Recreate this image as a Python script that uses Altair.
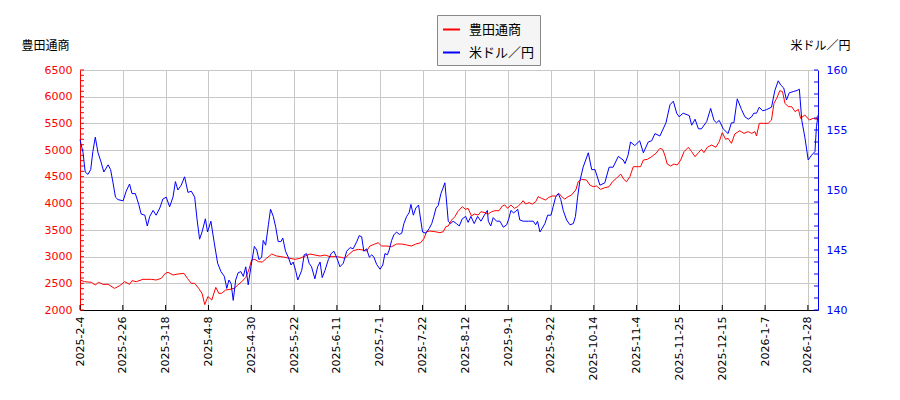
import altair as alt
import pandas as pd

# ---- tick labels (trading-day axis, one label every 14 trading days) ----
x_labels = ["2025-2-4", "2025-2-26", "2025-3-18", "2025-4-8", "2025-4-30",
            "2025-5-22", "2025-6-11", "2025-7-1", "2025-7-22", "2025-8-12",
            "2025-9-1", "2025-9-22", "2025-10-14", "2025-11-4", "2025-11-25",
            "2025-12-15", "2026-1-7", "2026-1-28"]
tick_step = 14

# ---- 豊田通商 (left axis) : trading-day position, price ----
red_t = [0, 1.5, 3.7, 5.0, 6.1, 7.5, 9.2, 11.3, 13.0, 14.6,
         16.2, 17.0, 18.4, 20.6, 23.3, 24.9, 26.6, 27.9, 28.8, 30.4,
         32.0, 34.0, 35.1, 36.4, 37.5, 38.8, 39.9, 40.8, 41.8, 42.5,
         43.1, 44.4, 45.4, 46.3, 47.6, 49.0, 50.4, 51.6, 52.9, 54.2,
         55.2, 56.1, 57.2, 58.3, 59.6, 61.0, 62.7, 64.3, 65.7, 67.0,
         68.6, 70.3, 71.9, 73.6, 75.2, 76.8, 78.5, 80.1, 81.7, 83.9,
         85.5, 86.6, 87.7, 89.3, 91.0, 92.6, 93.7, 94.8, 96.4, 97.5,
         98.6, 100.3, 101.9, 103.5, 105.2, 106.8, 108.4, 109.8, 111.4, 112.5,
         113.3, 114.4, 116.0, 117.7, 118.8, 119.6, 120.4, 121.5, 122.6, 123.5,
         125.0, 126.1, 126.9, 128.0, 128.9, 130.2, 131.1, 132.4, 133.5, 134.6,
         135.7, 137.0, 138.1, 138.9, 139.8, 140.9, 142.0, 143.1, 144.2, 144.9,
         145.7, 146.8, 147.9, 149.0, 149.8, 150.9, 152.2, 153.3, 154.4, 155.5,
         156.6, 157.5, 158.5, 159.6, 160.7, 162.1, 162.9, 164.0, 165.6, 166.7,
         167.8, 168.9, 170.2, 171.6, 173.0, 174.1, 175.4, 176.8, 177.8, 178.7,
         179.8, 180.9, 182.5, 183.3, 184.2, 185.5, 186.9, 188.3, 189.6, 190.5,
         191.2, 192.0, 193.1, 194.2, 195.3, 196.4, 197.5, 198.9, 200.0, 201.1,
         202.2, 203.2, 204.0, 205.1, 206.5, 207.9, 209.0, 210.0, 211.1, 211.9,
         213.0, 214.1, 215.7, 217.1, 218.5, 219.6, 220.7, 221.2, 222.1, 223.4,
         225.0, 226.1, 226.9, 227.8, 228.8, 229.7, 230.5, 231.6, 232.7, 233.8,
         234.9, 235.6, 237.0, 238.5, 239.7, 240.8, 241.2]
red_v = [2562, 2531, 2519, 2469, 2519, 2481, 2481, 2406, 2456, 2531,
         2481, 2550, 2531, 2575, 2575, 2562, 2594, 2687, 2706, 2656,
         2675, 2687, 2594, 2500, 2500, 2406, 2312, 2100, 2250, 2219,
         2187, 2425, 2312, 2312, 2375, 2387, 2406, 2469, 2531, 2612,
         2750, 2937, 2950, 2906, 2900, 2969, 3050, 3012, 3000, 2987,
         2969, 2950, 2969, 3012, 3050, 3031, 3012, 3031, 3000, 3000,
         2987, 2969, 3031, 3112, 3137, 3125, 3106, 3200, 3237, 3262,
         3200, 3200, 3187, 3237, 3237, 3219, 3200, 3237, 3262, 3344,
         3469, 3481, 3469, 3450, 3469, 3562, 3575, 3687, 3750, 3844,
         3937, 3887, 3906, 3762, 3800, 3781, 3844, 3825, 3800, 3844,
         3862, 3862, 3950, 3969, 3906, 3969, 3906, 3937, 4000, 4050,
         3987, 4012, 3987, 4031, 4125, 4094, 4062, 4112, 4137, 4137,
         4187, 4125, 4080, 4125, 4156, 4250, 4406, 4450, 4437, 4344,
         4312, 4325, 4262, 4294, 4312, 4406, 4469, 4550, 4450, 4406,
         4500, 4687, 4687, 4687, 4812, 4825, 4875, 4937, 5031, 5012,
         4906, 4737, 4700, 4737, 4719, 4812, 4969, 5050, 4969, 4875,
         4950, 5012, 4950, 5050, 5094, 5050, 5156, 5325, 5200, 5219,
         5125, 5300, 5362, 5312, 5344, 5312, 5344, 5262, 5500, 5500,
         5500, 5562, 5875, 5969, 6112, 6094, 5875, 5812, 5812, 5719,
         5762, 5594, 5656, 5562, 5594, 5575, 5650]

# ---- 米ドル／円 (right axis) : trading-day position, rate ----
blue_t = [0, 1.0, 1.7, 2.6, 3.5, 4.2, 5.0, 5.9, 6.8, 7.8,
          9.2, 10.0, 10.8, 11.6, 12.4, 14.1, 15.1, 16.2, 17.0, 18.1,
          19.2, 20.0, 21.2, 22.0, 22.8, 23.9, 24.9, 26.1, 27.1, 28.2,
          29.3, 30.4, 31.2, 32.0, 33.1, 34.2, 35.3, 36.4, 37.5, 38.3,
          39.1, 39.9, 41.0, 41.7, 42.8, 43.9, 45.0, 46.1, 47.2, 48.0,
          48.7, 49.4, 50.1, 50.9, 51.7, 52.6, 53.4, 54.2, 55.0, 55.9,
          57.0, 57.8, 58.5, 59.4, 59.9, 60.7, 61.6, 62.3, 63.2, 64.0,
          64.8, 65.7, 66.3, 67.2, 68.1, 69.0, 69.7, 70.5, 71.2, 72.5,
          73.3, 74.1, 74.9, 75.7, 76.8, 77.7, 78.5, 79.2, 80.1, 81.2,
          82.1, 83.0, 83.9, 85.0, 86.1, 87.2, 88.3, 89.3, 90.5, 91.3,
          92.1, 92.8, 93.7, 94.6, 95.4, 96.1, 97.0, 98.1, 99.0, 99.7,
          100.5, 101.1, 101.9, 102.6, 103.5, 104.4, 105.2, 105.9, 106.8, 107.6,
          108.2, 109.0, 109.8, 110.7, 111.4, 112.0, 113.1, 114.2, 115.0, 115.7,
          116.4, 117.1, 118.0, 118.6, 119.3, 119.9, 120.4, 121.2, 122.0, 123.1,
          124.0, 125.0, 126.1, 126.9, 127.8, 128.9, 130.0, 131.1, 132.2, 133.2,
          133.5, 134.3, 135.1, 136.2, 137.3, 138.4, 139.5, 140.2, 140.9, 141.7,
          142.4, 143.1, 143.8, 144.9, 146.6, 148.2, 149.0, 149.6, 150.4, 151.1,
          152.0, 152.9, 154.0, 154.7, 155.5, 156.4, 157.2, 158.0, 159.1, 160.2,
          161.3, 162.0, 162.7, 163.4, 164.5, 166.2, 167.3, 168.4, 170.0, 171.6,
          173.0, 174.3, 176.0, 177.6, 178.2, 179.2, 180.0, 181.4, 183.0, 184.2,
          185.8, 186.9, 188.0, 189.6, 191.6, 192.9, 194.0, 195.1, 195.9, 197.2,
          199.2, 200.0, 201.1, 202.2, 203.2, 204.9, 206.2, 207.3, 208.1, 209.0,
          210.3, 211.9, 213.0, 213.8, 214.9, 216.3, 217.4, 218.5, 219.6, 220.3,
          221.2, 222.1, 223.2, 224.5, 226.1, 227.2, 228.3, 229.1, 230.1, 231.0,
          231.9, 233.2, 234.5, 235.2, 236.0, 237.0, 238.1, 239.2, 240.3, 240.8,
          241.2]
blue_v = [154.2, 153.1, 151.5, 151.3, 151.7, 153.2, 154.4, 153.1, 152.4, 151.5,
          152.1, 151.7, 150.6, 149.4, 149.2, 149.1, 149.9, 150.5, 149.7, 149.7,
          148.8, 148.0, 147.9, 147.0, 147.8, 148.3, 147.9, 148.5, 149.25, 149.4,
          148.6, 149.4, 150.7, 150.0, 150.4, 151.1, 149.8, 149.9, 149.4, 147.5,
          145.9, 146.5, 147.6, 146.5, 147.4, 145.6, 143.9, 143.2, 142.8, 141.8,
          142.5, 142.2, 140.8, 142.5, 143.1, 143.2, 142.8, 143.6, 142.1, 143.6,
          145.3, 145.0, 144.2, 144.4, 145.8, 145.4, 147.1, 148.4, 147.8, 146.9,
          145.7, 145.7, 146.0, 144.9, 144.4, 143.75, 144.0, 143.3, 142.5, 143.3,
          144.6, 144.7, 143.9, 143.6, 142.6, 143.6, 144.0, 142.7, 143.3, 144.2,
          144.7, 144.9, 144.4, 143.6, 143.9, 144.9, 145.2, 145.1, 145.7, 146.2,
          146.1, 144.9, 145.1, 144.4, 144.6, 144.4, 143.8, 143.4, 143.75, 144.7,
          144.6, 145.0, 145.8, 146.25, 146.5, 146.3, 146.4, 147.2, 147.8, 148.1,
          148.8, 147.9, 148.5, 148.75, 147.5, 146.5, 146.4, 146.8, 147.2, 147.8,
          148.5, 148.7, 149.7, 150.1, 150.6, 148.9, 147.4, 147.2, 147.4, 147.2,
          147.0, 147.6, 147.8, 147.3, 147.8, 147.2, 147.8, 147.4, 147.9, 148.3,
          147.4, 147.0, 147.7, 147.4, 147.4, 146.9, 147.1, 147.6, 148.3, 148.1,
          148.2, 148.4, 147.5, 147.4, 147.4, 147.4, 147.1, 147.4, 146.5, 146.8,
          147.2, 147.9, 147.9, 148.6, 149.4, 149.7, 149.2, 148.3, 147.5, 147.1,
          147.2, 147.8, 149.4, 150.7, 151.9, 153.1, 151.7, 151.7, 150.4, 150.6,
          151.9, 151.9, 152.8, 152.5, 152.2, 152.9, 154.0, 153.7, 154.1, 153.1,
          154.0, 154.1, 154.7, 154.5, 155.6, 157.1, 157.4, 156.4, 156.1, 156.4,
          156.2, 155.4, 155.9, 155.1, 155.1, 155.7, 156.8, 155.8, 155.6, 155.8,
          155.1, 154.7, 155.6, 155.6, 157.6, 156.7, 156.1, 155.9, 156.1, 156.4,
          156.4, 156.9, 156.6, 156.7, 156.9, 158.3, 159.1, 158.75, 158.5, 157.5,
          158.1, 158.2, 158.3, 158.4, 155.8, 154.4, 152.5, 152.9, 153.2, 155.3,
          156.0]

series_names = ["豊田通商", "米ドル／円"]
series_colors = ["#ff0000", "#0000ff"]

red_major = list(range(2000, 6501, 500))
red_minor = list(range(2000, 6501, 100))
blue_major = list(range(140, 161, 5))
blue_minor = list(range(140, 161, 1))
x_tick_vals = [i * tick_step for i in range(len(x_labels))]

red_df = pd.DataFrame({"t": red_t, "price": red_v, "series": series_names[0]})
blue_df = pd.DataFrame({"t": blue_t, "fx": blue_v, "series": series_names[1]})

W, H = 738, 240
GRID = "#c8c8c8"
NUM_FONT = "DejaVu Sans"
CJK_FONT = "Noto Sans CJK JP"

x_scale = alt.Scale(domain=[0, 241.3], nice=False, zero=False)
red_scale = alt.Scale(domain=[2000, 6500], nice=False, zero=False)
blue_scale = alt.Scale(domain=[140, 160], nice=False, zero=False)

label_expr = "[" + ",".join("'%s'" % s for s in x_labels) + "][round(datum.value/%d)]" % tick_step

x_axis = alt.Axis(values=x_tick_vals, labelExpr=label_expr, labelAngle=-90,
                  labelAlign="right", labelBaseline="middle", labelPadding=6,
                  ticks=False, grid=True, gridColor=GRID, domainColor="black",
                  labelColor="black", labelFont=NUM_FONT, labelFontSize=11,
                  title=None)
red_axis = alt.Axis(orient="left", values=red_major, format="d", grid=True, gridColor=GRID,
                    ticks=False, domainColor="red", labelColor="red",
                    labelFont=NUM_FONT, labelFontSize=11, labelPadding=8,
                    title="豊田通商", titleAngle=0, titleX=-35, titleY=-25,
                    titleAlign="center", titleBaseline="middle", titleFont=CJK_FONT,
                    titleFontSize=12, titleFontWeight="normal", titleColor="black")
blue_axis = alt.Axis(orient="right", values=blue_major, format="d", grid=False, ticks=False,
                     domainColor="blue", labelColor="blue", labelFont=NUM_FONT,
                     labelFontSize=11, labelPadding=8,
                     title="米ドル／円", titleAngle=0, titleX=32, titleY=-25,
                     titleAlign="right", titleBaseline="middle", titleFont=CJK_FONT,
                     titleFontSize=12, titleFontWeight="normal", titleColor="black")

color = alt.Color("series:N",
                  scale=alt.Scale(domain=series_names, range=series_colors),
                  legend=alt.Legend(title=None, orient="none", legendX=357, legendY=-55,
                                    direction="vertical", symbolType="stroke",
                                    symbolSize=289, symbolStrokeWidth=2,
                                    labelFont=CJK_FONT, labelFontSize=13, labelOffset=8,
                                    rowPadding=6, padding=5, fillColor="#f5f5f5",
                                    strokeColor="#888888", labelColor="black"))

red_line = alt.Chart(red_df).mark_line(strokeWidth=1).encode(
    x=alt.X("t:Q", scale=x_scale, axis=x_axis),
    y=alt.Y("price:Q", scale=red_scale, axis=red_axis),
    color=color,
)
red_ticks = alt.Chart(pd.DataFrame({"price": red_minor})).mark_rule(color="red", strokeWidth=1).encode(
    y=alt.Y("price:Q", scale=red_scale, axis=red_axis),
    x=alt.value(0), x2=alt.value(4),
)
x_ticks = alt.Chart(pd.DataFrame({"t": x_tick_vals})).mark_rule(color="black", strokeWidth=1).encode(
    x=alt.X("t:Q", scale=x_scale, axis=x_axis),
    y=alt.value(H - 5), y2=alt.value(H),
)
blue_line = alt.Chart(blue_df).mark_line(strokeWidth=1).encode(
    x=alt.X("t:Q", scale=x_scale, axis=x_axis),
    y=alt.Y("fx:Q", scale=blue_scale, axis=blue_axis),
    color=color,
)
blue_ticks = alt.Chart(pd.DataFrame({"fx": blue_minor})).mark_rule(color="blue", strokeWidth=1).encode(
    y=alt.Y("fx:Q", scale=blue_scale, axis=blue_axis),
    x=alt.value(W - 4), x2=alt.value(W),
)

chart = alt.layer(
    alt.layer(red_line, red_ticks, x_ticks),
    alt.layer(blue_line, blue_ticks),
).resolve_scale(y="independent").properties(
    width=W, height=H,
    padding={"left": 72, "top": 62, "right": 60, "bottom": 80},
    autosize=alt.AutoSizeParams(type="none"),
    background="white",
).configure_view(strokeWidth=0)

chart.save("out.html", embed_options={"renderer": "svg", "actions": False})
